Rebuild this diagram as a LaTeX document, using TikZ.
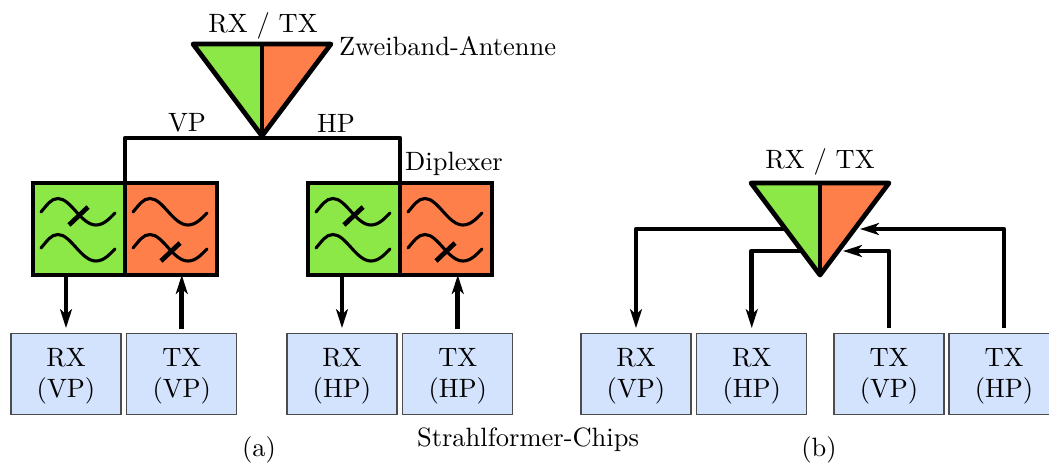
\documentclass[tikz,border=0pt]{standalone}
\usepackage{xcolor}
\usetikzlibrary{arrows.meta, positioning}
\definecolor{bandGreen}{HTML}{8BE846}
\definecolor{bandOrange}{HTML}{FF7F4B}
\definecolor{chipBlue}{HTML}{D3E2FD}
\newcommand{\filterWave}[2]{%
  \begin{scope}[shift={(#1,#2)}]
    \draw[waveLine] (0,0) .. controls (6,-7) and (10,-13.5) .. (17,-13.5)
      .. controls (30,-13.5) and (40,13) .. (55,13)
      .. controls (63,13) and (69,6) .. (74,1);
  \end{scope}%
}
\newcommand{\filterStop}[2]{%
  \filterWave{#1}{#2}
  \draw[bandLine] (#1+28,#2+13) -- (#1+47,#2-5);%
}
\newcommand{\antenna}[3]{%
  \fill[bandGreen] (#1-69,#2) -- (#1,#2) -- (#1,#2+92) -- cycle;
  \fill[bandOrange] (#1+69,#2) -- (#1,#2) -- (#1,#2+92) -- cycle;
  \draw[bandLine] (#1-69,#2) -- (#1+69,#2) -- (#1,#2+92) -- cycle;
  \draw[bandLine] (#1,#2) -- (#1,#2+92);
  \coordinate (#3) at (#1,#2+94);%
}

\begin{document}
\begin{tikzpicture}[
  x=0.013cm, y=-0.013cm,
  every node/.style={font=\fontsize{9.8}{11.8}\selectfont, align=center, outer sep=0pt},
  bandLine/.style={line width=1.75pt, line join=round},
  waveLine/.style={line width=1.15pt, line cap=round},
  sigArrow/.style={line width=1.75pt, line join=round, -{Stealth[length=7pt,width=4.4pt,inset=1.9pt]}},
  filterBox/.style={draw, line width=1.75pt, minimum width=1.196cm, minimum height=1.196cm},
  chipBox/.style={draw=black!70, fill=chipBlue, line width=0.4pt, minimum width=1.43cm, minimum height=1.053cm, inner sep=0pt, text depth=0.8pt}
]
  \useasboundingbox (0,0) rectangle (1049,462);

  % part (a)
  \node[filterBox, fill=bandGreen] (lpA) at (79,229) {};
  \node[filterBox, fill=bandOrange, right=0cm of lpA] (hpA) {};
  \node[filterBox, fill=bandGreen] (lpB) at (354,229) {};
  \node[filterBox, fill=bandOrange, right=0cm of lpB] (hpB) {};

  \filterStop{41}{212}
  \filterWave{41}{248}
  \filterWave{133}{212}
  \filterStop{133}{248}
  \filterStop{316}{212}
  \filterWave{316}{248}
  \filterWave{408}{212}
  \filterStop{408}{248}

  \antenna{262}{44}{apexA}
  \draw[bandLine] (lpA.north east) |- (apexA) -| (lpB.north east);

  \node[chipBox] (rxvA) at (66,374) {RX\\(VP)};
  \node[chipBox, right=0.075cm of rxvA] (txvA) {TX\\(VP)};
  \node[chipBox] (rxhA) at (342,374) {RX\\(HP)};
  \node[chipBox, right=0.075cm of rxhA] (txhA) {TX\\(HP)};

  \draw[sigArrow, shorten >=2pt] (lpA.south -| rxvA.north) -- (rxvA.north);
  \draw[sigArrow, shorten <=1.6pt] (txvA.north) -- (hpA.south -| txvA.north);
  \draw[sigArrow, shorten >=2pt] (lpB.south -| rxhA.north) -- (rxhA.north);
  \draw[sigArrow, shorten <=1.6pt] (txhA.north) -- (hpB.south -| txhA.north);

  \node (rxtxA) at (263,26) {RX / TX};
  \node[anchor=west, inner sep=0pt] (antLabel) at (339,46.5) {Zweiband-Antenne};
  \node (vpLabel) at (187,123) {VP};
  \node (hpLabel) at (336,123) {HP};
  \node (dipLabel) at (454,164) {Diplexer};

  % part (b)
  \node[chipBox] (rxvB) at (636,374) {RX\\(VP)};
  \node[chipBox, right=0.075cm of rxvB] (rxhB) {RX\\(HP)};
  \node[chipBox] (txvB) at (889,374) {TX\\(VP)};
  \node[chipBox, right=0.065cm of txvB] (txhB) {TX\\(HP)};

  \coordinate (portRxV) at (786,229);
  \coordinate (portRxH) at (802,251);
  \coordinate (portTxV) at (843,251);
  \coordinate (portTxH) at (860,229);

  \draw[sigArrow, shorten >=2pt] (portRxV) -| (rxvB.north);
  \draw[sigArrow, shorten >=2pt] (portRxH) -| (rxhB.north);
  \draw[sigArrow, shorten <=2pt] (txvB.north) |- (portTxV);
  \draw[sigArrow, shorten <=2pt] (txhB.north) |- (portTxH);

  \antenna{820}{183}{apexB}

  \node (rxtxB) at (820,162) {RX / TX};

  \node (chipLabel) at (528,439.5) {Strahlformer-Chips};
  \node (capA) at (259,450) {(a)};
  \node (capB) at (819,450) {(b)};
\end{tikzpicture}
\end{document}
